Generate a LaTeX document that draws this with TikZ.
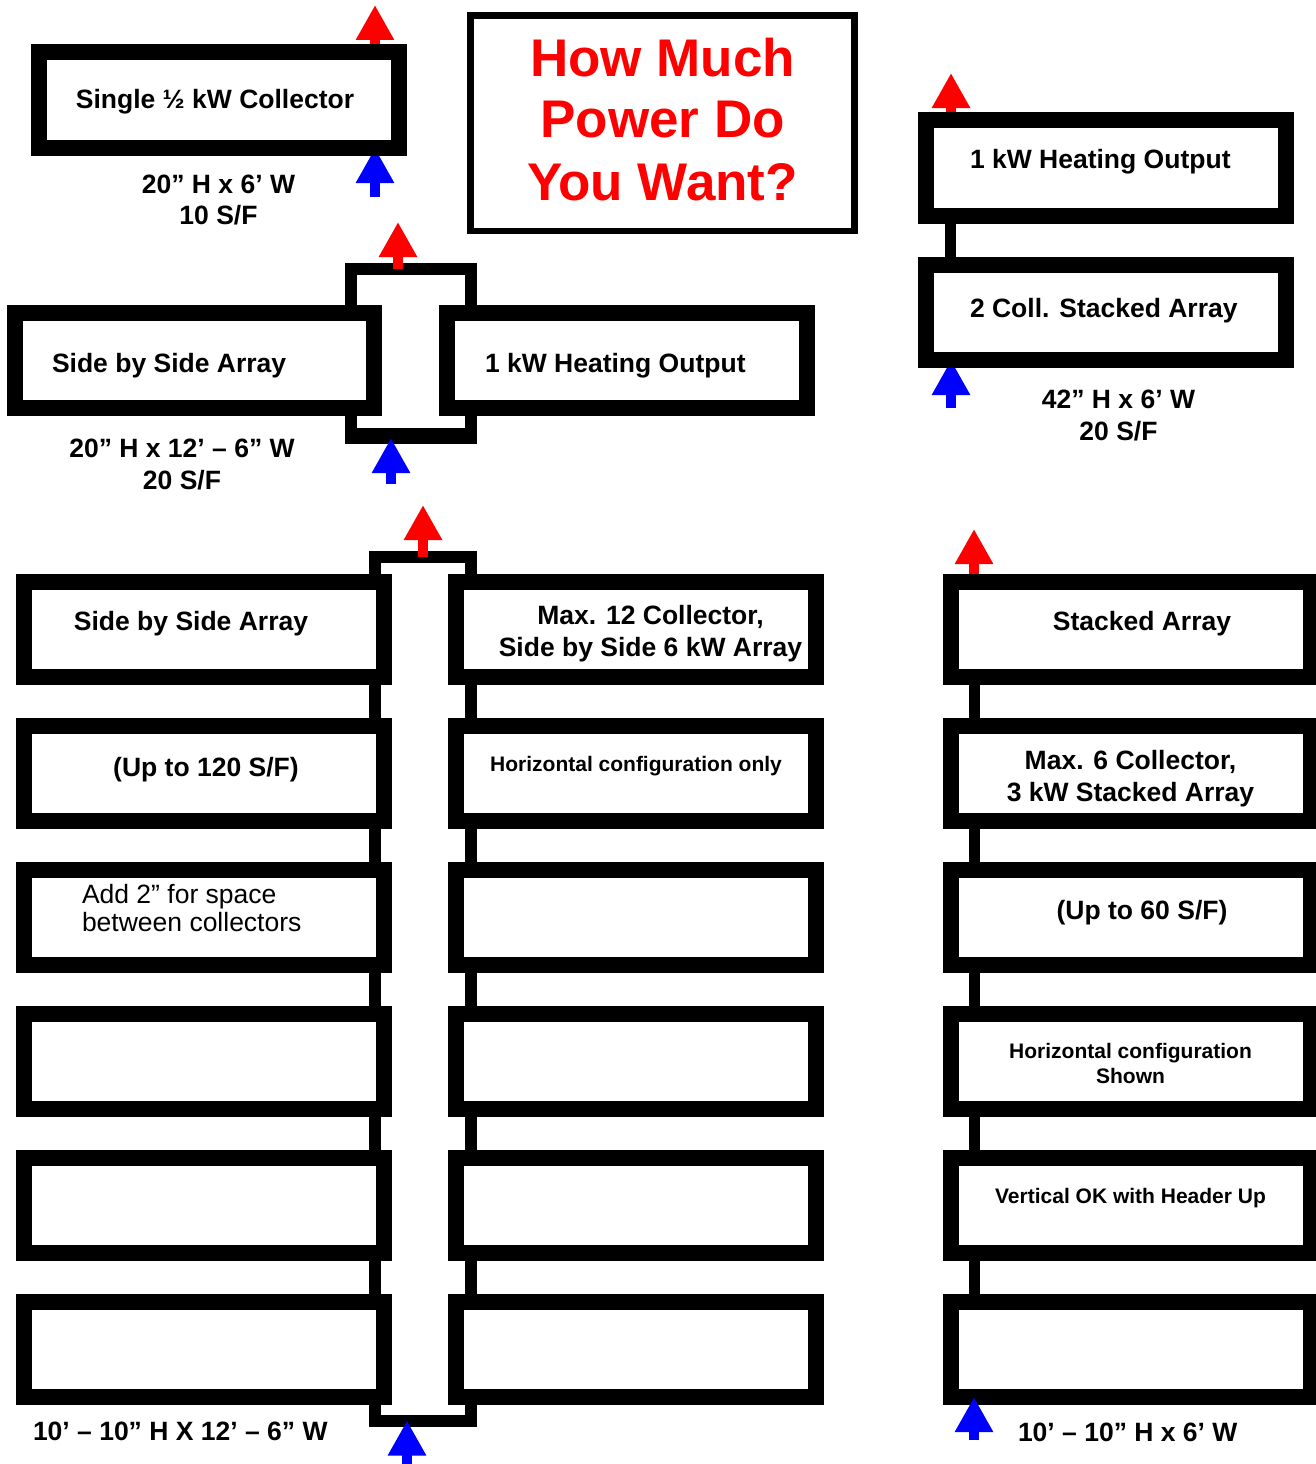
\documentclass[tikz,border=0pt]{standalone}
\usepackage{fontspec}
\setmainfont{Liberation Sans}
\usetikzlibrary{arrows.meta}
\begin{document}
\begin{tikzpicture}[x=1pt,y=-1pt,
  panel/.style={draw, fill=white, line width=16pt, rectangle, inner sep=0pt, outer sep=0pt, minimum width=360pt, minimum height=95pt},
  pipe/.style={draw, line width=12pt, rectangle, inner sep=0pt, outer sep=0pt},
  riser/.style={draw, line width=11pt},
  lbl/.style={inner sep=0pt, outer sep=0pt, anchor=base, font=\fontsize{26.5}{30}\selectfont\bfseries},
  lbll/.style={lbl, anchor=base west},
  plain/.style={inner sep=0pt, outer sep=0pt, anchor=base west, font=\fontsize{26.5}{30}\selectfont},
  small/.style={lbl, font=\fontsize{21}{25}\selectfont\bfseries},
  ttl/.style={inner sep=0pt, outer sep=0pt, anchor=base, text=red, font=\fontsize{53}{60}\selectfont\bfseries},
  hot/.style={color=red, line width=10pt, -{Triangle[length=35pt,width=36pt]}},
  cold/.style={color=blue, line width=10pt, -{Triangle[length=35pt,width=36pt]}}]
\useasboundingbox (0,0) rectangle (1316,1464);

% coordinates for free arrow ends
\coordinate (r1) at (375,5);
\coordinate (c1) at (375,197);
\coordinate (r2) at (398,222);
\coordinate (c2) at (391,484);
\coordinate (r3) at (951,73);
\coordinate (c3) at (951,408);
\coordinate (r4) at (423,505);
\coordinate (c4) at (407,1464);
\coordinate (r5) at (974,529);
\coordinate (c5) at (974,1440);

% headers (behind boxes)
\node[pipe, minimum width=119.5pt, minimum height=169pt] (h1) at (410.75,353.5) {};
\draw[line width=4pt] ([yshift=8pt]h1.south west) -- ([yshift=8pt]h1.south east);
\node[pipe, minimum width=96pt, minimum height=863.5pt] (h2) at (422.5,988.75) {};

% boxes (positions only, drawn later)
\path
  node[panel, minimum height=96pt, draw=none, fill=none] (b1) at (219,100) {}
  node[panel, minimum width=359pt, draw=none, fill=none] (a1) at (194.5,360.5) {}
  node[panel, draw=none, fill=none] (a2) at (627,360.5) {}
  node[panel, minimum height=96pt, draw=none, fill=none] (p1) at (1106,168) {}
  node[panel, draw=none, fill=none] (p2) at (1106,312.5) {};
\foreach \i/\t in {1/574,2/718,3/862,4/1006,5/1150,6/1294}{
  \path node[panel, draw=none, fill=none] (s\i) at (1131,\t+55.5) {};
}

% arrows behind boxes
\draw[hot] (b1.north -| r1) -- (r1);
\draw[cold] (c1) -- (c1 |- b1.south);
\draw[hot] (h1.north -| r2) -- (r2);
\draw[cold] (c2) -- (c2 |- h1.south);
\draw[hot] (p1.north -| r3) -- (r3);
\draw[cold] (c3) -- (c3 |- p2.south);
\draw[hot] (h2.north -| r4) -- (r4);
\draw[cold] (c4) -- (c4 |- h2.south);
\draw[hot] (s1.north -| r5) -- (r5);

% risers
\draw[riser] ([xshift=-155.5pt]p1.south) -- ([xshift=-155.5pt]p2.north);
\draw[riser] ([xshift=-156.5pt]s1.south) -- ([xshift=-156.5pt]s6.north);

% visible boxes
\node[panel, minimum height=96pt] (B1) at (b1) {};
\node[panel, minimum width=359pt] (A1) at (a1) {};
\node[panel] (A2) at (a2) {};
\node[panel, minimum height=96pt] (P1) at (p1) {};
\node[panel] (P2) at (p2) {};
\foreach \i/\t in {1/574,2/718,3/862,4/1006,5/1150,6/1294}{
  \node[panel] (L\i) at (204,\t+55.5) {};
  \node[panel] (R\i) at (636,\t+55.5) {};
  \node[panel] (S\i) at (s\i) {};
}

% incoming arrow on top of last stacked box
\draw[cold] (c5) -- (c5 |- s6.south);

% title
\node[draw, line width=6.5pt, minimum width=384pt, minimum height=215.5pt, inner sep=0pt, outer sep=0pt] (T) at (662.5,123.25) {};
\node[ttl] (T1) at (662.5,77) {How Much};
\node[ttl] (T2) at (662.5,137) {Power Do};
\node[ttl] (T3) at (662.5,200) {You Want?};

% labels
\node[lbl] (t1) at (215,108) {Single ½ kW Collector};
\node[lbl] (d1a) at (218.5,193) {20” H x 6’ W};
\node[lbl] (d1b) at (218.5,224) {10 S/F};

\node[lbll] (t2) at (52,372) {Side by Side Array};
\node[lbll] (t3) at (485,372) {1 kW Heating Output};
\node[lbl] (d2a) at (182,457) {20” H x 12’ – 6” W};
\node[lbl] (d2b) at (182,489) {20 S/F};

\node[lbll] (t4) at (970,168) {1 kW Heating Output};
\node[lbll] (t5) at (970,317) {2 Coll. Stacked Array};
\node[lbl] (d3a) at (1118.5,408) {42” H x 6’ W};
\node[lbl] (d3b) at (1118.5,440) {20 S/F};

\node[lbl] (u1) at (191,630) {Side by Side Array};
\node[lbl] (u2) at (206,776) {(Up to 120 S/F)};
\node[plain] (u3a) at (82,903) {Add 2” for space};
\node[plain] (u3b) at (82,931) {between collectors};

\node[lbl] (v1a) at (650.5,624) {Max. 12 Collector,};
\node[lbl] (v1b) at (650.5,656) {Side by Side 6 kW Array};
\node[small] (v2) at (636,771) {Horizontal configuration only};

\node[lbl] (w1) at (1142,630) {Stacked Array};
\node[lbl] (w2a) at (1130.5,769) {Max. 6 Collector,};
\node[lbl] (w2b) at (1130.5,801) {3 kW Stacked Array};
\node[lbl] (w3) at (1142,919) {(Up to 60 S/F)};
\node[small] (w4a) at (1130.5,1058) {Horizontal configuration};
\node[small] (w4b) at (1130.5,1083) {Shown};
\node[small] (w5) at (1130.5,1203) {Vertical OK with Header Up};

\node[lbll] (e1) at (33,1440) {10’ – 10” H X 12’ – 6” W};
\node[lbll] (e2) at (1018,1441) {10’ – 10” H x 6’ W};
\end{tikzpicture}
\end{document}
